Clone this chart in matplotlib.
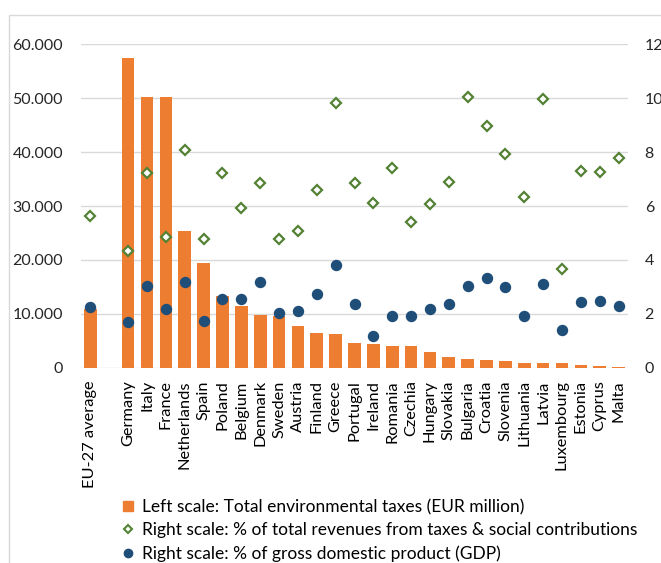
import matplotlib
matplotlib.use("Agg")
import matplotlib.pyplot as plt
from matplotlib.lines import Line2D
from matplotlib.patches import Rectangle
from matplotlib.ticker import FuncFormatter

plt.rcParams['font.family'] = ['Lato', 'DejaVu Sans']

categories = ["EU-27 average", "", "Germany", "Italy", "France", "Netherlands", "Spain",
              "Poland", "Belgium", "Denmark", "Sweden", "Austria", "Finland", "Greece",
              "Portugal", "Ireland", "Romania", "Czechia", "Hungary", "Slovakia",
              "Bulgaria", "Croatia", "Slovenia", "Lithuania", "Latvia", "Luxembourg",
              "Estonia", "Cyprus", "Malta"]

env_taxes = [10900, None, 57400, 50200, 50200, 25300, 19400,
             13300, 11500, 9800, 9600, 7800, 6350, 6200,
             4650, 4350, 4050, 4050, 2850, 2000,
             1680, 1500, 1200, 880, 880, 880,
             500, 320, 130]

pct_revenues = [5.64, None, 4.32, 7.21, 4.85, 8.08, 4.79,
                7.21, 5.91, 6.84, 4.79, 5.06, 6.60, 9.83,
                6.84, 6.11, 7.41, 5.42, 6.09, 6.90,
                10.03, 8.97, 7.94, 6.35, 9.97, 3.67,
                7.31, 7.25, 7.78]

pct_gdp = [2.26, None, 1.71, 3.04, 2.19, 3.18, 1.74,
           2.55, 2.55, 3.18, 2.02, 2.12, 2.75, 3.81,
           2.37, 1.19, 1.93, 1.93, 2.18, 2.37,
           3.04, 3.31, 2.98, 1.93, 3.10, 1.39,
           2.44, 2.47, 2.29]

left_ticks = [0, 10000, 20000, 30000, 40000, 50000, 60000]
right_ticks = [0, 2, 4, 6, 8, 10, 12]

labels = {
    "bar": "Left scale: Total environmental taxes (EUR million)",
    "rev": "Right scale: % of total revenues from taxes & social contributions",
    "gdp": "Right scale: % of gross domestic product (GDP)",
}

ORANGE = "#ED7D31"
GREEN = "#548235"
BLUE = "#1F4E79"
GRID = "#D9D9D9"
TXT = "#262626"

W, H = 661, 563
fig = plt.figure(figsize=(W / 100, H / 100), dpi=100)

# outer chart frame (cropped on right/bottom)
fig.patches.append(Rectangle((9 / W, -0.1), 1.2, 1 - 15 / H + 0.1, transform=fig.transFigure,
                             fill=False, edgecolor=GRID, linewidth=1.0))

ax = fig.add_axes([81 / W, 1 - 367.7 / H, (628 - 81) / W, (367.7 - 44.3) / H])
x = list(range(len(categories)))
bx = [i for i, v in zip(x, env_taxes) if v is not None]
bv = [v for v in env_taxes if v is not None]
ax.bar(bx, bv, width=0.67, color=ORANGE, zorder=2)
ax.set_xlim(-0.5, len(categories) - 0.5)
ax.set_ylim(0, 60000)
ax.set_yticks(left_ticks)
ax.yaxis.set_major_formatter(FuncFormatter(lambda v, p: f"{int(v):,}".replace(",", ".")))
ax.grid(axis='y', color=GRID, linewidth=1.0, zorder=0)
ax.set_axisbelow(True)
for s in ax.spines.values():
    s.set_visible(False)
ax.tick_params(axis='y', length=0, pad=13, labelsize=11.5, labelcolor=TXT)
ax.set_xticks(x)
ax.set_xticklabels(categories, rotation=90, fontsize=11.8, color="black")
ax.tick_params(axis='x', length=0, pad=9)

ax2 = ax.twinx()
ax2.set_ylim(0, 12)
ax2.set_yticks(right_ticks)
for s in ax2.spines.values():
    s.set_visible(False)
ax2.tick_params(axis='y', length=0, pad=12, labelsize=11.5, labelcolor=TXT)

rx = [i for i, v in zip(x, pct_revenues) if v is not None]
rv = [v for v in pct_revenues if v is not None]
gx = [i for i, v in zip(x, pct_gdp) if v is not None]
gv = [v for v in pct_gdp if v is not None]
ax2.plot(rx, rv, linestyle='none', marker='D', markersize=5.2, markerfacecolor='white',
         markeredgecolor=GREEN, markeredgewidth=1.6, zorder=3)
ax2.plot(gx, gv, linestyle='none', marker='o', markersize=7.2, markerfacecolor=BLUE,
         markeredgecolor=BLUE, zorder=3)

handles = [
    Line2D([], [], linestyle='none', marker='s', markersize=6.5, color=ORANGE),
    Line2D([], [], linestyle='none', marker='D', markersize=4.0, markerfacecolor='white',
           markeredgecolor=GREEN, markeredgewidth=1.5),
    Line2D([], [], linestyle='none', marker='o', markersize=6, color=BLUE),
]
fig.legend(handles, [labels["bar"], labels["rev"], labels["gdp"]],
           loc='upper left', bbox_to_anchor=(121 / W, 1 - 499 / H), frameon=False,
           fontsize=12.5, handlelength=0.8, handletextpad=0.4, labelspacing=0.42,
           borderaxespad=0, borderpad=0)

fig.savefig("out.png", dpi=100)
